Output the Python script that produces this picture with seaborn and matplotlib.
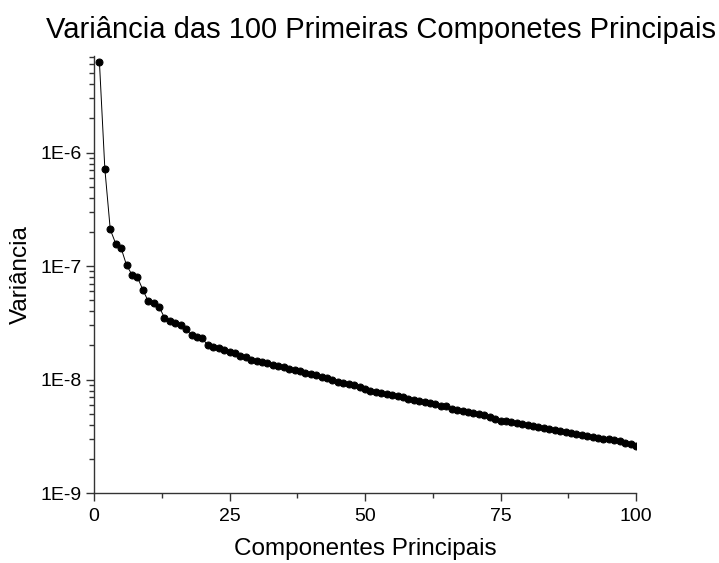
import numpy as np
import pandas as pd
import matplotlib
matplotlib.use("Agg")
import matplotlib.pyplot as plt
import matplotlib.ticker as mticker
import seaborn as sns

components = list(range(1, 101))
variance = [
    6.3e-6, 7.2e-7, 2.1e-7, 1.58e-7, 1.44e-7, 1.02e-7, 8.4e-8, 8.0e-8, 6.2e-8, 4.9e-8,
    4.7e-8, 4.4e-8, 3.5e-8, 3.3e-8, 3.15e-8, 3.0e-8, 2.77e-8, 2.45e-8, 2.37e-8, 2.3e-8,
    2.0e-8, 1.95e-8, 1.88e-8, 1.82e-8, 1.76e-8, 1.70e-8, 1.60e-8, 1.57e-8, 1.50e-8, 1.46e-8,
    1.43e-8, 1.39e-8, 1.35e-8, 1.32e-8, 1.29e-8, 1.23e-8, 1.21e-8, 1.18e-8, 1.15e-8, 1.12e-8,
    1.09e-8, 1.06e-8, 1.04e-8, 1.00e-8, 9.6e-9, 9.4e-9, 9.2e-9, 9.0e-9, 8.6e-9, 8.2e-9,
    8.0e-9, 7.8e-9, 7.6e-9, 7.5e-9, 7.3e-9, 7.1e-9, 6.95e-9, 6.8e-9, 6.6e-9, 6.45e-9,
    6.35e-9, 6.2e-9, 6.05e-9, 5.9e-9, 5.8e-9, 5.45e-9, 5.35e-9, 5.25e-9, 5.15e-9, 5.05e-9,
    4.95e-9, 4.85e-9, 4.7e-9, 4.5e-9, 4.35e-9, 4.3e-9, 4.2e-9, 4.1e-9, 4.05e-9, 3.95e-9,
    3.88e-9, 3.8e-9, 3.72e-9, 3.65e-9, 3.6e-9, 3.52e-9, 3.45e-9, 3.38e-9, 3.3e-9, 3.22e-9,
    3.18e-9, 3.12e-9, 3.07e-9, 3.02e-9, 2.98e-9, 2.94e-9, 2.9e-9, 2.78e-9, 2.68e-9, 2.6e-9,
]
x_ticks = [0, 25, 50, 75, 100]
y_ticks = [1e-9, 1e-8, 1e-7, 1e-6]

title = "Variância das 100 Primeiras Componetes Principais"
xlabel = "Componentes Principais"
ylabel = "Variância"

sns.set_style("ticks")
plt.rcParams["font.family"] = ["Liberation Sans", "DejaVu Sans"]
plt.rcParams["text.color"] = "black"
plt.rcParams["axes.labelcolor"] = "black"
plt.rcParams["xtick.labelcolor"] = "black"
plt.rcParams["ytick.labelcolor"] = "black"

df = pd.DataFrame({"comp": components, "var": variance})

fig = plt.figure(figsize=(7.19, 5.63), dpi=100)
ax = fig.add_axes([94 / 719, 1 - 493 / 563, (636 - 94) / 719, (493 - 56) / 563])

sns.lineplot(data=df, x="comp", y="var", ax=ax, color="black", linewidth=0.7,
             marker="o", markersize=5, markeredgecolor="black", markerfacecolor="black")

ax.set_yscale("log")
ax.set_xlim(0, 100)
ax.set_ylim(1e-9, 7.1e-6)
ax.set_xticks(x_ticks)
ax.xaxis.set_minor_locator(mticker.MultipleLocator(12.5))
ax.set_yticks(y_ticks)
ax.yaxis.set_minor_locator(mticker.LogLocator(base=10, subs=np.arange(2, 10)))
ax.yaxis.set_minor_formatter(mticker.NullFormatter())
ax.yaxis.set_major_formatter(mticker.FuncFormatter(lambda v, p: f"1E{int(round(np.log10(v)))}"))

ax.tick_params(axis="both", which="major", direction="out", length=6, width=1,
               labelsize=14, color="#333333")
ax.tick_params(axis="x", which="major", pad=5)
ax.tick_params(axis="y", which="major", pad=3)
ax.tick_params(axis="both", which="minor", direction="out", length=3.5, width=1, color="#333333")
for s in ["left", "bottom"]:
    ax.spines[s].set_color("#333333")
    ax.spines[s].set_linewidth(1)
sns.despine(ax=ax)

ax.set_xlabel(xlabel, fontsize=17.5, labelpad=9)
ax.set_ylabel(ylabel, fontsize=17.5, labelpad=6)
fig.text(381 / 719, 1 - 30 / 563, title, fontsize=21, ha="center", va="center")

fig.savefig("out.png", dpi=100)
